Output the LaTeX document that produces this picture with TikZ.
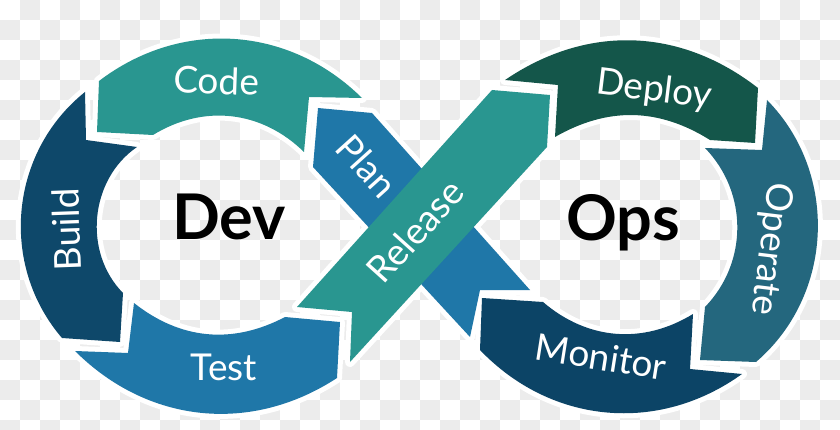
\documentclass[tikz,border=0pt]{standalone}
\usepackage{fontspec}
\setmainfont{Lato}
\definecolor{codeteal}{RGB}{41,150,144}
\definecolor{buildnavy}{RGB}{14,72,106}
\definecolor{testblue}{RGB}{31,119,168}
\definecolor{deploygreen}{RGB}{20,86,74}
\definecolor{operateblue}{RGB}{36,103,126}
\definecolor{monitornavy}{RGB}{12,68,102}
\definecolor{checker}{RGB}{236,236,236}

\newcommand{\codeshape}{(99,81) to[bend left=41] (362,98) -- (309,97) -- (304,152) to[bend right=38] (153,135) -- (97,132) -- cycle}
\newcommand{\buildshape}{(85,92) to[bend right=46] (62,338) -- (120,342) -- (123,293) to[bend left=50] (137,147) -- (86,140) -- cycle}
\newcommand{\testshape}{(75,351) to[bend right=39] (337,378) -- (340,322) -- (285,317) to[bend left=33] (134,303) -- (128,353) -- cycle}
\newcommand{\planshape}{(318,108) -- (372,113) -- (530,290) -- (480,290) -- (470,337) -- (313,167) -- cycle}
\newcommand{\releaseshape}{(297,307) -- (492,90) -- (550,95) -- (547,147) -- (350,362) -- (352,312) -- cycle}
\newcommand{\deployshape}{(505,80) to[bend left=36] (758,88) -- (755,143) -- (710,140) to[bend right=31] (555,137) -- (558,85) -- cycle}
\newcommand{\operateshape}{(767,100) to[bend left=47] (756,362) -- (700,360) -- (705,307) to[bend right=44] (705,148) -- (762,150) -- cycle}
\newcommand{\monitorshape}{(480,350) to[bend right=41] (742,374) -- (690,369) -- (693,314) to[bend left=36] (543,302) -- (482,298) -- cycle}

\begin{document}
\begin{tikzpicture}[x=1pt,y=-1pt,
    halo/.style={draw=white,line width=10pt,line join=round},
    steplabel/.style={text=white,anchor=base,inner sep=0pt,font=\fontsize{37}{40}\selectfont},
    hublabel/.style={text=black,anchor=base,inner sep=0pt,font=\fontsize{63}{70}\selectfont\bfseries}]
\useasboundingbox (0,0) rectangle (840,430);
\fill[white] (0,0) rectangle (840,430);
\begin{scope}
  \clip (0,0) rectangle (840,430);
  \foreach \i in {0,...,41} {
    \foreach \j in {0,...,21} {
      \pgfmathtruncatemacro{\k}{mod(\i+\j,2)}
      \ifnum\k=1 \fill[checker] (20*\i,20*\j) rectangle ++(20,20); \fi
    }
  }
\end{scope}
\foreach \shape in {\codeshape,\buildshape,\testshape,\planshape,\releaseshape,\deployshape,\operateshape,\monitorshape}
  \draw[halo] \shape;
\fill[codeteal] \codeshape;
\fill[buildnavy] \buildshape;
\fill[testblue] \testshape;
\fill[testblue] \planshape;
\fill[codeteal] \releaseshape;
\fill[deploygreen] \deployshape;
\fill[operateblue] \operateshape;
\fill[monitornavy] \monitorshape;
\node[steplabel, rotate=-2] (code) at (216,94) {Code};
\node[steplabel, rotate=92] (build) at (80,229) {Build};
\node[steplabel] (test) at (224,380) {Test};
\node[steplabel, rotate=-48] (plan) at (357,175) {Plan};
\node[steplabel, rotate=48] (release) at (425,240) {Release};
\node[steplabel, rotate=-7] (deploy) at (653,101) {Deploy};
\node[steplabel, rotate=-97] (operate) at (760,248) {Operate};
\node[steplabel, rotate=-9] (monitor) at (599,370) {Monitor};
\node[hublabel] (dev) at (229,240) {Dev};
\node[hublabel] (ops) at (623,241) {Ops};
\end{tikzpicture}
\end{document}
